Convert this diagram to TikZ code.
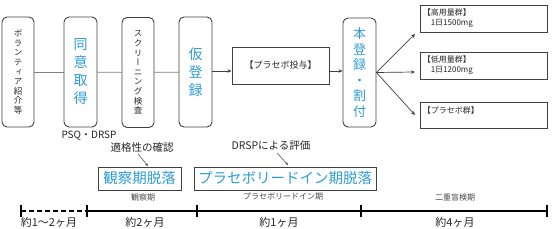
\documentclass[tikz,border=0pt]{standalone}
\usepackage{fontspec}
\setmainfont{Noto Sans CJK JP}
\newfontfamily\jp{Noto Sans CJK JP}
\newfontfamily\jpv{Noto Sans CJK JP}[RawFeature=+vert]
\usetikzlibrary{arrows.meta}
\definecolor{jblue}{HTML}{2E9BD6}
\definecolor{boxline}{HTML}{404040}
\definecolor{conn}{HTML}{808080}
\definecolor{txt}{HTML}{262626}
\tikzset{
  vbox/.style={draw=boxline, line width=0.9pt, rounded corners=5pt, minimum width=32pt, minimum height=110pt, inner sep=0pt, align=center},
  hbox/.style={draw=boxline, line width=0.9pt, inner sep=0pt},
  smallv/.style={font=\jpv\fontsize{8.5}{9.6}\selectfont, text=txt},
  bigv/.style={font=\jpv\fontsize{14}{18}\selectfont, text=jblue},
  conline/.style={draw=conn, line width=0.8pt},
  arr/.style={draw=boxline, line width=0.7pt, -{Stealth[length=4pt,width=3.5pt]}},
  tl/.style={line width=1.6pt, black},
  tick/.style={line width=1.6pt, black},
}
\begin{document}
\begin{tikzpicture}[x=1pt,y=-1pt]
\useasboundingbox (0,0) rectangle (552,229);
% vertical boxes
\node[vbox, smallv] (b1) at (18,72) {ボ\\ラ\\ン\\テ\\ィ\\ア\\紹\\介\\等};
\node[vbox, bigv, minimum width=33pt] (b2) at (80.5,72) {同\\意\\取\\得};
\node[vbox, smallv] (b3) at (138,72.5) {ス\\ク\\リ\\ー\\ニ\\ン\\グ\\検\\査};
\node[vbox, bigv, minimum width=33pt] (b4) at (195.5,72) {仮\\登\\録};
\node[hbox, minimum width=97pt, minimum height=37pt, font=\jp\fontsize{9}{11}\selectfont, text=txt] (b5) at (280.5,65.5) {【プラセボ投与】};
\node[vbox, font=\jpv\fontsize{13}{15.5}\selectfont, text=jblue, minimum width=33pt, minimum height=109pt] (b6) at (359.5,72.5) {本\\登\\録\\・\\割\\付};
% right group boxes
\node[hbox, minimum width=127pt, minimum height=27pt] (r1) at (483.5,18.5) {};
\node[hbox, minimum width=127pt, minimum height=27pt] (r2) at (483.5,65.5) {};
\node[hbox, minimum width=127pt, minimum height=26pt] (r3) at (483.5,115) {};
\node[anchor=north west, inner sep=0pt, align=left, font=\jp\fontsize{8}{10}\selectfont, text=txt] (t1) at ([xshift=3pt,yshift=-4pt]r1.north west) {【高用量群】\\\hspace*{8pt}1日1500mg};
\node[anchor=north west, inner sep=0pt, align=left, font=\jp\fontsize{8}{10}\selectfont, text=txt] (t2) at ([xshift=3pt,yshift=-4pt]r2.north west) {【低用量群】\\\hspace*{8pt}1日1200mg};
\node[anchor=north west, inner sep=0pt, align=left, font=\jp\fontsize{8}{10}\selectfont, text=txt] (t3) at ([xshift=3pt,yshift=-5pt]r3.north west) {【プラセボ群】};
% connectors
\draw[conline] (b1) -- (b2);
\draw[conline] (b2) -- (b3);
\draw[conline] (b3) -- (b4);
\coordinate (mid) at (0,71);
\draw[arr] (b4.east |- mid) -- (b5.west |- mid);
\draw[arr] (b5.east |- mid) -- (b6.west |- mid);
\coordinate (e1) at (415,34);
\coordinate (e2) at (415,72);
\coordinate (e3) at (415,115);
\draw[arr] (b6.east) -- (e1);
\draw[arr] (b6.east) -- (e2);
\draw[arr] (b6.east) -- (e3);
% lower annotations
\node[font=\jp\fontsize{10}{12}\selectfont, text=txt, inner sep=0pt] (psq) at (89,136) {PSQ・DRSP};
\node[font=\jp\fontsize{10.5}{12}\selectfont, text=txt, inner sep=0pt] (tek) at (142,148) {適格性の確認};
\node[hbox, minimum width=83pt, minimum height=23pt, font=\jp\fontsize{14.5}{16}\selectfont, text=jblue] (o1) at (139.5,178.5) {観察期脱落};
\node[hbox, minimum width=182pt, minimum height=23pt, font=\jp\fontsize{14.5}{16}\selectfont, text=jblue] (o2) at (285,178.5) {プラセボリードイン期脱落};
\node[font=\jp\fontsize{10.5}{12}\selectfont, text=txt, inner sep=0pt] (drsp) at (271,146) {DRSPによる評価};
\coordinate (a1s) at (138,154);
\coordinate (a1e) at (148,166);
\coordinate (a2s) at (277,153);
\coordinate (a2e) at (288,165);
\draw[draw=boxline, line width=0.5pt, -{Stealth[length=3pt,width=2.5pt]}] (a1s) -- (a1e);
\draw[draw=boxline, line width=0.5pt, -{Stealth[length=3pt,width=2.5pt]}] (a2s) -- (a2e);
\node[font=\jp\fontsize{8}{10}\selectfont, text=txt!85, inner sep=0pt] (p1) at (143,197) {観察期};
\node[font=\jp\fontsize{8}{10}\selectfont, text=txt!85, inner sep=0pt] (p2) at (283,197) {プラセボリードイン期};
\node[font=\jp\fontsize{8}{10}\selectfont, text=txt!85, inner sep=0pt] (p3) at (455,197) {二重盲検期};
% timeline
\coordinate (k0) at (21,211);
\coordinate (k1) at (87,211);
\coordinate (k2) at (197,211);
\coordinate (k3) at (361,211);
\coordinate (k4) at (547,211);
\draw[tl, dash pattern=on 5pt off 3pt] (k0) -- (k1);
\draw[tl] (k1) -- (k4);
\foreach \k in {k0,k1,k2,k3,k4} {\draw[tick] ([yshift=6pt]\k) -- ([yshift=-6pt]\k);}
\node[font=\jp\fontsize{11}{12}\selectfont, text=txt, inner sep=0pt] (l0) at (49,222) {約1～2ヶ月};
\node[font=\jp\fontsize{11}{12}\selectfont, text=txt, inner sep=0pt] (l1) at (145,222) {約2ヶ月};
\node[font=\jp\fontsize{11}{12}\selectfont, text=txt, inner sep=0pt] (l2) at (279,222) {約1ヶ月};
\node[font=\jp\fontsize{11}{12}\selectfont, text=txt, inner sep=0pt] (l3) at (455,222) {約4ヶ月};
\end{tikzpicture}
\end{document}
